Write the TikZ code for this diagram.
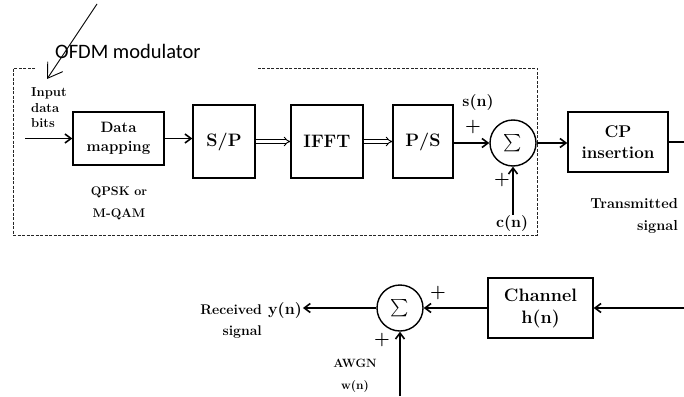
\documentclass[tikz,border=0pt]{standalone}
\usepackage{amsmath}
\usepackage{fontspec}
\newfontfamily\calibri{Carlito}
\usetikzlibrary{arrows.meta}
\begin{document}
\begin{tikzpicture}[x=1pt,y=-1pt,
  blk/.style={draw,line width=1.4pt,inner sep=0pt,align=center},
  sumc/.style={draw,circle,line width=1.4pt,minimum size=46pt,inner sep=0pt,font=\LARGE},
  sig/.style={line width=1.6pt,-{Straight Barb[length=6pt,width=9pt]}},
  dbl/.style={double,double distance=2.4pt,line width=0.9pt,-{Implies}},
  lbl/.style={inner sep=1pt,font=\fontsize{16}{18}\selectfont\bfseries},
  pls/.style={inner sep=1pt,font=\fontsize{18}{18}\selectfont\bfseries},
  small/.style={inner sep=0pt,font=\fontsize{13}{15.5}\selectfont\bfseries,align=left},
]
\useasboundingbox (0,0) rectangle (684,396);
\fill[white] (0,0) rectangle (684,396);

% dashed frame
\draw[dash pattern=on 3pt off 1.5pt,line width=1pt,black!85] (35,68) -- (13,68) -- (13,235) -- (537,235) -- (537,68) -- (258,68);

% blocks
\node[blk,minimum width=91pt,minimum height=53pt,font=\fontsize{15}{19}\selectfont\bfseries] (dm) at (118.5,138.5) {Data\\mapping};
\node[blk,minimum width=62pt,minimum height=73pt,font=\fontsize{18}{20}\selectfont\bfseries] (sp) at (224,141.5) {S/P};
\node[blk,minimum width=72pt,minimum height=73pt,font=\fontsize{18}{20}\selectfont\bfseries] (ifft) at (327,141.5) {IFFT};
\node[blk,minimum width=60pt,minimum height=73pt,font=\fontsize{18}{20}\selectfont\bfseries] (ps) at (423,141.5) {P/S};
\node[sumc] (s1) at (513,143) {$\sum$};
\node[blk,minimum width=100pt,minimum height=60pt,font=\fontsize{17}{21}\selectfont\bfseries] (cp) at (618,142) {CP\\insertion};
\node[blk,minimum width=105pt,minimum height=60pt,font=\fontsize{18}{22}\selectfont\bfseries] (ch) at (540.5,308) {Channel\\h(n)};
\node[sumc] (s2) at (400,308) {$\sum$};

% title and pointer
\node[anchor=base west,inner sep=0pt,font=\calibri\fontsize{20.5}{24}\selectfont] (title) at (55,58) {OFDM modulator};
\coordinate (d0) at (97,4);
\coordinate (d1) at (47,79);
\draw[line width=0.9pt,-{Straight Barb[length=14pt,width=18pt]}] (d0) -- (d1);

% top chain
\node[small,anchor=west] (inp) at (31,108) {Input\\data\\bits};
\coordinate (in0) at (25,138.5);
\draw[sig] (in0) -- (in0 -| dm.west);
\node[inner sep=0pt,font=\fontsize{12.5}{22}\selectfont\bfseries,align=center] (qp) at (119,203) {QPSK or\\M-QAM};
\draw[sig] (dm.east) -- (dm.east -| sp.west);
\draw[dbl] (sp) -- (ifft);
\draw[dbl] (ifft) -- (ps);
\draw[sig] (ps.east |- s1) -- (s1.west);
\node[lbl] (sn) at (478,103) {s(n)};
\node[pls] (p1) at (473,127) {+};
\node[pls] (p2) at (502,180) {+};
\node[lbl] (cn) at (512,224) {c(n)};
\draw[sig] (cn.north -| s1) -- (s1.south);
\draw[sig] (s1.east) -- (s1.east -| cp.west);
\coordinate (txo) at (684,142);
\draw[line width=1.6pt] (cp.east) -- (txo);
\node[font=\fontsize{14.5}{22}\selectfont\bfseries,align=right,anchor=east,inner sep=0pt] (tx) at (678,216) {Transmitted\\signal};

% bottom chain
\coordinate (chin) at (684,308);
\draw[sig] (chin) -- (ch.east);
\draw[sig] (ch.west) -- (s2.east);
\node[pls] (p3) at (438,293) {+};
\node[pls] (p4) at (382,340) {+};
\coordinate (aw) at (400,396);
\draw[sig] (aw) -- (s2.south);
\node[inner sep=0pt,font=\fontsize{12}{22}\selectfont\bfseries,align=center] (awgn) at (355,376) {AWGN\\w(n)};
\node[lbl] (yn) at (285,311) {y(n)};
\draw[sig] (s2.west) -- (s2.west -| yn.east);
\node[font=\fontsize{14}{21}\selectfont\bfseries,align=right,anchor=east,inner sep=0pt] (rx) at (262,322) {Received\\signal};
\end{tikzpicture}
\end{document}
